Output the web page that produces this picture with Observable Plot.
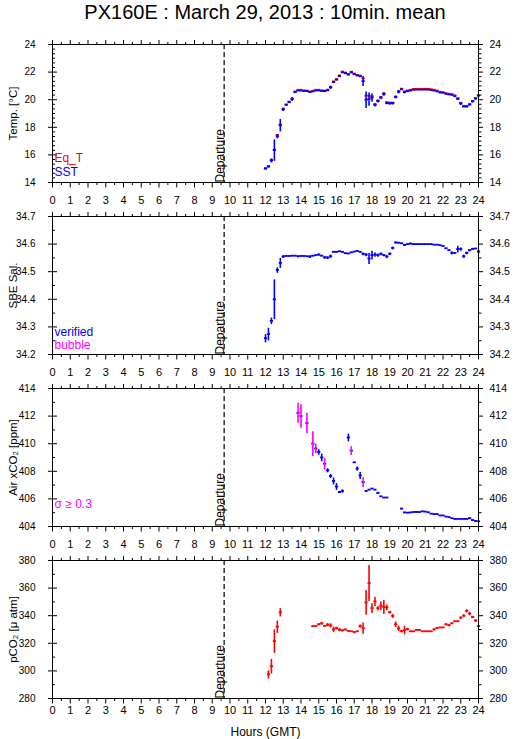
<!DOCTYPE html>
<html>
<head>
<meta charset="utf-8">
<script src="https://cdn.jsdelivr.net/npm/d3@7"></script>
<script src="https://cdn.jsdelivr.net/npm/@observablehq/plot@0.6"></script>
<style>
  html, body { margin: 0; padding: 0; background: #fff; }
  body { width: 515px; font-family: "Liberation Sans", Arial, Helvetica, sans-serif; }
  #title { height: 36px; box-sizing: border-box; padding: 0 37px 0 52px; text-align: center;
           font-size: 20px; line-height: 24px; color: #000; white-space: nowrap; }
  #charts svg { display: block; }
</style>
</head>
<body>
<div id="title">PX160E : March 29, 2013 : 10min. mean</div>
<div id="charts"></div>
<script>
// ---------- data (10-min means, 12:00 .. 24:00 GMT) ----------
const times = [
  "12:00","12:10","12:20","12:30","12:40","12:50",
  "13:00","13:10","13:20","13:30","13:40","13:50",
  "14:00","14:10","14:20","14:30","14:40","14:50",
  "15:00","15:10","15:20","15:30","15:40","15:50",
  "16:00","16:10","16:20","16:30","16:40","16:50",
  "17:00","17:10","17:20","17:30","17:40","17:50",
  "18:00","18:10","18:20","18:30","18:40","18:50",
  "19:00","19:10","19:20","19:30","19:40","19:50",
  "20:00","20:10","20:20","20:30","20:40","20:50",
  "21:00","21:10","21:20","21:30","21:40","21:50",
  "22:00","22:10","22:20","22:30","22:40","22:50",
  "23:00","23:10","23:20","23:30","23:40","23:50",
  "24:00"
];

const sst = [
  15.00, 15.15, 15.60, 16.35, 17.35, 18.15,
  19.30, 19.63, 19.82, 20.05, 20.55, 20.66,
  20.66, 20.63, 20.62, 20.55, 20.60, 20.66,
  20.67, 20.63, 20.62, 20.68, 20.90, 21.28,
  21.45, 21.72, 21.98, 21.92, 21.82, 21.98,
  21.85, 21.75, 21.70, 21.35, 20.00, 20.05,
  20.15, 19.62, 19.90, 20.15, 20.40, 19.75,
  19.73, 19.75, 20.20, 20.58, 20.75, 20.55,
  20.62, 20.66, 20.72, 20.73, 20.73, 20.73,
  20.73, 20.73, 20.70, 20.66, 20.60, 20.52,
  20.50, 20.42, 20.38, 20.35, 20.25, 20.05,
  19.72, 19.50, 19.50, 19.65, 19.88, 20.08,
  20.30
];
const sstSd = [
  .03, .05, .15, .78, .15, .45,
  .12, .04, .05, .15, .05, .02,
  .02, .02, .02, .05, .02, .02,
  .02, .02, .02, .03, .12, .05,
  .05, .05, .03, .05, .05, .03,
  .03, .03, .03, .36, .60, .48,
  .30, .12, .10, .10, .12, .08,
  .08, .10, .10, .12, .03, .10,
  .03, .03, .02, .02, .02, .02,
  .02, .02, .02, .02, .02, .02,
  .02, .02, .02, .02, .02, .05,
  .10, .03, .03, .08, .08, .08,
  .06
];
const eqT = [
  15.05, 15.20, 15.62, 16.38, 17.45, 18.20,
  19.35, 19.66, 19.86, 20.08, 20.60, 20.72,
  20.72, 20.68, 20.66, 20.60, 20.65, 20.72,
  20.72, 20.68, 20.67, 20.73, 20.93, 21.33,
  21.50, 21.76, 22.04, 21.97, 21.87, 22.03,
  21.90, 21.80, 21.75, 21.55, 20.30, 20.28,
  20.25, 19.68, 19.95, 20.20, 20.47, 19.83,
  19.80, 19.78, 20.22, 20.60, 20.80, 20.60,
  20.67, 20.72, 20.78, 20.79, 20.79, 20.79,
  20.79, 20.79, 20.76, 20.72, 20.66, 20.58,
  20.55, 20.48, 20.44, 20.41, 20.32, 20.12,
  19.78, 19.56, 19.55, 19.68, 19.90, 20.12,
  20.32
];

const salinity = [
  34.259, 34.274, 34.322, 34.400, 34.506, 34.532,
  34.555, 34.557, 34.557, 34.558, 34.558, 34.556,
  34.557, 34.557, 34.556, 34.555, 34.558, 34.560,
  34.562, 34.558, 34.552, 34.551, 34.556, 34.572,
  34.572, 34.574, 34.572, 34.567, 34.566, 34.570,
  34.573, 34.575, 34.572, 34.565, 34.562, 34.548,
  34.560, 34.562, 34.560, 34.565, 34.560, 34.555,
  34.565, 34.586, 34.606, 34.605, 34.603, 34.597,
  34.600, 34.602, 34.600, 34.600, 34.600, 34.600,
  34.600, 34.600, 34.600, 34.598, 34.598, 34.596,
  34.593, 34.585, 34.578, 34.568, 34.568, 34.582,
  34.582, 34.556, 34.568, 34.578, 34.583, 34.584,
  34.573
];
const salinitySd = [
  .015, .023, .012, .072, .010, .018,
  .005, .002, .002, .002, .002, .004,
  .002, .002, .002, .005, .002, .002,
  .004, .002, .005, .005, .006, .002,
  .002, .002, .002, .002, .002, .002,
  .002, .002, .002, .005, .006, .020,
  .016, .008, .006, .005, .004, .006,
  .005, .005, .004, .002, .002, .004,
  .002, .003, .002, .002, .002, .002,
  .002, .002, .002, .002, .002, .002,
  .002, .002, .002, .006, .002, .012,
  .006, .006, .005, .004, .003, .002,
  .006
];

const xco2 = [
  null, null, null, null, null, null,
  null, null, null, null, null, 412.24,
  412.00, null, 411.50, null, 410.00, 409.65,
  409.40, 409.00, 408.55, 408.07, 407.66, 407.30,
  406.90, 406.50, 406.57, null, 410.45, 409.50,
  408.65, 408.20, 407.70, 407.22, 406.57, 406.67,
  406.75, 406.67, 406.43, 406.19, 406.10, 406.10,
  null, null, null, null, 405.30, 405.02,
  405.00, 405.02, 405.05, 405.05, 405.05, 405.10,
  405.08, 405.03, 404.93, 404.90, 404.90, 404.80,
  404.80, 404.72, 404.68, 404.60, 404.55, 404.55,
  404.55, 404.55, 404.55, 404.60, 404.47, 404.40,
  404.38
];
const xco2Sd = [
  0, 0, 0, 0, 0, 0,
  0, 0, 0, 0, 0, .72,
  .85, 0, .75, 0, .90, .35,
  .20, .28, .40, .15, .15, .25,
  .25, .07, .12, 0, .28, .32,
  .03, .15, .25, .35, .03, .02,
  .02, .02, .08, .02, .02, .02,
  0, 0, 0, 0, .05, .05,
  .02, .02, .02, .05, .02, .02,
  .02, .04, .02, .02, .02, .02,
  .02, .02, .02, .02, .02, .02,
  .02, .02, .02, .06, .02, .02,
  .02
];

const pco2 = [
  null, 297.5, 303.4, 321.6, 332.0, 342.5,
  null, null, null, null, null, null,
  null, null, null, null, 332.4, 332.6,
  333.8, 334.5, 332.6, 333.5, 333.0, 330.1,
  331.0, 329.9, 329.4, 330.0, 329.0, 328.7,
  328.2, 328.7, 332.4, 331.0, 349.6, 363.7,
  345.5, 350.4, 345.5, 347.2, 346.3, 346.0,
  342.6, 339.9, 333.8, 330.8, 328.8, 329.5,
  330.3, 328.7, 328.7, 329.7, 329.7, 328.7,
  328.7, 328.7, 328.7, 330.1, 331.2, 331.5,
  331.5, 333.8, 333.2, 334.5, 336.0, 336.0,
  338.6, 340.0, 343.5, 341.5, 339.0, 336.5,
  332.5
];
const pco2Sd = [
  0, 3, 5.3, 8.5, 4.5, 3,
  0, 0, 0, 0, 0, 0,
  0, 0, 0, 0, .5, .3,
  .8, 1, .5, 1.2, 1.5, 2,
  1, 1.2, .8, .6, .4, .3,
  .3, .4, 1.2, 4, 9, 13,
  3.6, 3.3, 1.5, 3, 5, 2,
  1, 1.5, 2, 2, 1, 3,
  1, .3, .3, .3, .3, .3,
  .3, .3, .3, .8, .4, .3,
  .3, .8, .8, .5, .3, .3,
  .8, 1, 1.2, 1.2, .8, 1,
  .8
];

// ticks & labels
const hourTicks = [0,1,2,3,4,5,6,7,8,9,10,11,12,13,14,15,16,17,18,19,20,21,22,23,24];
const tempTicks = [14, 16, 18, 20, 22, 24];
const salTicks = [34.2, 34.3, 34.4, 34.5, 34.6, 34.7];
const xco2Ticks = [404, 406, 408, 410, 412, 414];
const pco2Ticks = [280, 300, 320, 340, 360, 380];
const departureHour = 9.67;
const sigmaLimit = 0.3;

// ---------- helpers ----------
const hours = times.map(t => { const [h, m] = t.split(":").map(Number); return h + m / 60; });
const rows = (vals, sds) => hours.map((h, i) => ({h, v: vals[i], sd: sds ? sds[i] : 0})).filter(d => d.v != null);
const halfHours = hourTicks.slice(0, -1).map(h => h + 0.5);
const minorOf = (ticks, n) => { const out = []; for (let i = 0; i < ticks.length - 1; i++) { const s = (ticks[i+1]-ticks[i]) / n; for (let j = 1; j < n; j++) out.push(ticks[i] + s*j); } return out; };

const W = 515, ML = 52, MR = 37, FH = 138, FW = W - ML - MR;
const HW = 0.09;
const BLUE = "#0000ff", RED = "#ff0000", MAG = "#ff00ff";
const blank = () => "";

function hseg(data, color) {
  return Plot.link(data, {x1: d => d.h - HW, x2: d => d.h + HW, y1: "v", y2: "v", stroke: color, strokeWidth: 1.8});
}
function vseg(data, color) {
  return Plot.link(data, {x1: "h", x2: "h", y1: d => d.v - d.sd, y2: d => d.v + d.sd, stroke: color, strokeWidth: 1.6});
}
function legend(items) {
  return items.map(([txt, color, dy]) => Plot.text([txt], {text: d => d, frameAnchor: "bottom-left", dx: 2, dy, fill: color, fontSize: 12, textAnchor: "start", lineAnchor: "middle"}));
}

function panel(o) {
  const mt = 8, mb = o.last ? 41 : 26;
  const marks = [
    Plot.axisX({anchor: "bottom", ticks: hourTicks, tickSize: 5.5, tickPadding: o.last ? 2 : 8, tickFormat: d => String(d), label: null, fontSize: 11}),
    Plot.axisX({anchor: "bottom", ticks: halfHours, tickSize: 3, tickFormat: blank, label: null}),
    Plot.axisX({anchor: "top", ticks: hourTicks, tickSize: 5, tickFormat: blank, label: null}),
    Plot.axisX({anchor: "top", ticks: halfHours, tickSize: 3, tickFormat: blank, label: null}),
    Plot.axisY({anchor: "left", ticks: o.ticks, tickSize: 4, tickPadding: 13, tickFormat: o.fmt, label: null, fontSize: 10}),
    Plot.tickY(o.ticks, {y: d => d, insetRight: FW - 5, stroke: "black"}),
    Plot.tickY(o.minor, {y: d => d, insetRight: FW - 3, stroke: "black"}),
    Plot.axisY({anchor: "right", ticks: o.ticks, tickSize: 4, tickPadding: 7, tickFormat: o.fmt, label: null, fontSize: 10.5}),
    Plot.axisY({anchor: "right", ticks: o.minor, tickSize: 2.5, tickFormat: blank, label: null}),
    Plot.ruleX([departureHour], {x: d => d, stroke: "black", strokeWidth: 1.2, strokeDasharray: "5,3"}),
    Plot.text([departureHour], {x: d => d, frameAnchor: "bottom", text: () => "Departure", rotate: -90, textAnchor: "start", lineAnchor: "bottom", fontSize: 12, fill: "black"}),
    Plot.text([o.ylabel], {text: d => d, frameAnchor: "left", dx: -39, rotate: -90, fontSize: 11.5, textAnchor: "middle", lineAnchor: "middle", fill: "black"}),
    ...o.data,
    ...legend(o.legend),
    Plot.frame({stroke: "black", strokeWidth: 1})
  ];
  if (o.last) marks.push(Plot.text(["Hours (GMT)"], {text: d => d, frameAnchor: "bottom", dy: 33.5, fontSize: 12, lineAnchor: "middle", fill: "black"}));
  return Plot.plot({
    width: W, height: FH + mt + mb,
    marginTop: mt, marginBottom: mb, marginLeft: ML, marginRight: MR,
    x: {domain: [0, 24], label: null},
    y: {domain: o.domain, label: null},
    style: {fontFamily: "'Liberation Sans', Arial, Helvetica, sans-serif", fontSize: "11px", color: "black", background: "white"},
    marks
  });
}

// ---------- panels ----------
const sstRows = rows(sst, sstSd), eqRows = rows(eqT);
const salRows = rows(salinity, salinitySd);
const xRows = rows(xco2, xco2Sd);
const pRows = rows(pco2, pco2Sd);

const charts = document.getElementById("charts");

charts.append(panel({
  domain: [14, 24], ticks: tempTicks, minor: minorOf(tempTicks, 6), fmt: d => String(d),
  ylabel: "Temp. [°C]",
  data: [hseg(eqRows, RED), hseg(sstRows, BLUE), vseg(sstRows, BLUE)],
  legend: [["Eq_T", RED, -24], ["SST", BLUE, -10]]
}));

charts.append(panel({
  domain: [34.2, 34.7], ticks: salTicks, minor: minorOf(salTicks, 2), fmt: d3.format(".1f"),
  ylabel: "SBE Sal.",
  data: [hseg(salRows, BLUE), vseg(salRows, BLUE)],
  legend: [["verified", BLUE, -22], ["bubble", MAG, -9]]
}));

charts.append(panel({
  domain: [404, 414], ticks: xco2Ticks, minor: minorOf(xco2Ticks, 2), fmt: d => String(d),
  ylabel: "Air xCO₂ [ppm]",
  data: [hseg(xRows, BLUE), vseg(xRows.filter(d => d.sd < sigmaLimit), BLUE), vseg(xRows.filter(d => d.sd >= sigmaLimit), MAG)],
  legend: [["σ ≥ 0.3", MAG, -22]]
}));

charts.append(panel({
  domain: [280, 380], ticks: pco2Ticks, minor: minorOf(pco2Ticks, 2), fmt: d => String(d),
  ylabel: "pCO₂ [μ atm]",
  data: [hseg(pRows, RED), vseg(pRows, RED)],
  legend: [],
  last: true
}));
</script>
</body>
</html>
